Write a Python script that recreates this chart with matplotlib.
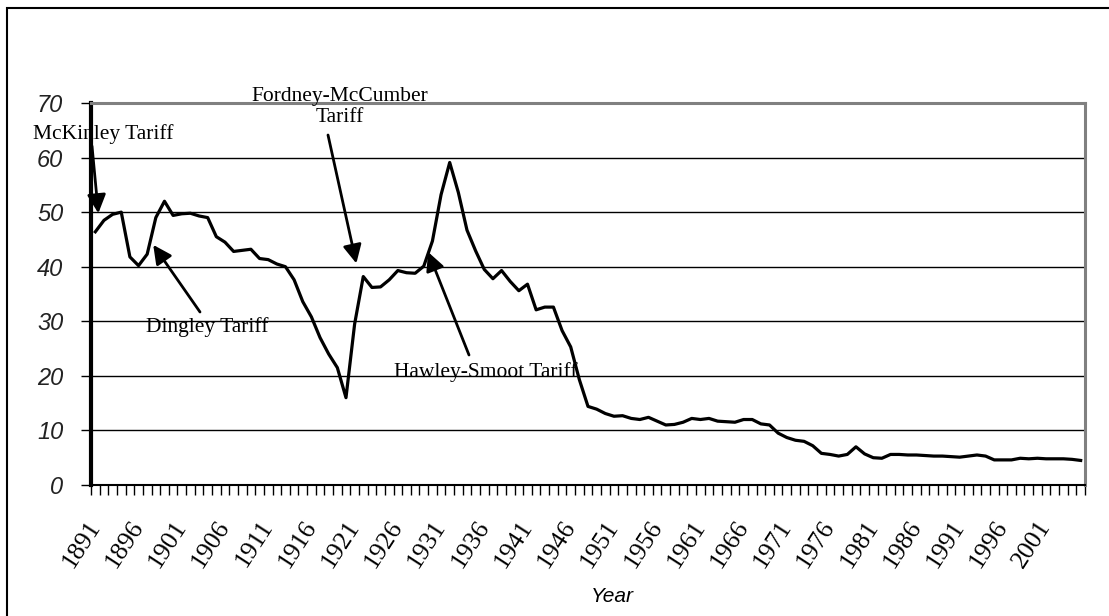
import numpy as np
import matplotlib
matplotlib.use('Agg')
import matplotlib.pyplot as plt
from matplotlib.patches import Rectangle

plt.rcParams['font.family'] = ['Liberation Serif', 'DejaVu Serif']

# average US tariff rate (%), one value per year 1891-2005
years = list(range(1891, 2006))
tariff = [
    46.4, 48.5, 49.6, 50.0, 41.8, 40.2, 42.3, 49.0, 52.0, 49.4,   # 1891-1900
    49.7, 49.8, 49.3, 49.0, 45.5, 44.5, 42.8, 43.0, 43.2, 41.5,   # 1901-1910
    41.3, 40.5, 40.0, 37.6, 33.6, 30.8, 27.0, 24.0, 21.5, 16.0,   # 1911-1920
    29.5, 38.2, 36.2, 36.3, 37.6, 39.3, 38.9, 38.8, 40.1, 44.7,   # 1921-1930
    53.2, 59.1, 53.6, 46.7, 42.9, 39.5, 37.8, 39.3, 37.3, 35.6,   # 1931-1940
    36.8, 32.1, 32.6, 32.6, 28.3, 25.3, 19.3, 14.4, 13.9, 13.1,   # 1941-1950
    12.6, 12.7, 12.2, 12.0, 12.4, 11.7, 11.0, 11.1, 11.5, 12.2,   # 1951-1960
    12.0, 12.2, 11.7, 11.6, 11.5, 12.0, 12.0, 11.2, 11.0, 9.5,    # 1961-1970
    8.7, 8.2, 8.0, 7.2, 5.8, 5.6, 5.3, 5.6, 7.0, 5.7,             # 1971-1980
    5.0, 4.9, 5.6, 5.6, 5.5, 5.5, 5.4, 5.3, 5.3, 5.2,             # 1981-1990
    5.1, 5.3, 5.5, 5.3, 4.6, 4.6, 4.6, 4.9, 4.8, 4.9,             # 1991-2000
    4.8, 4.8, 4.8, 4.7, 4.5,                                      # 2001-2005
]

label_years = years[::5]
y_ticks = [0, 10, 20, 30, 40, 50, 60, 70]

# annotations: (text, text centre in px from top-left, arrow start px, arrow tip year, tip value)
notes = [
    ('McKinley Tariff', (103, 134), (92, 146), 1891.35, 49.8),
    ('Dingley Tariff', (207, 327), (200, 312), 1897.7, 44.0),
    ('Fordney-McCumber\nTariff', (340, 107), (328, 135), 1921.2, 40.6),
    ('Hawley-Smoot Tariff', (486, 372), (469, 355), 1929.5, 42.7),
]

W, H = 1109, 616
fig = plt.figure(figsize=(W / 100, H / 100), dpi=100)
ax = fig.add_axes([91 / W, 1 - 485 / H, (1085 - 91) / W, (485 - 103) / H])

x = np.arange(len(years))
ax.plot(x, tariff, color='black', lw=2.3, zorder=3)

ax.set_xlim(-0.5, len(years) - 0.5)
ax.set_ylim(0, 70)

# grid
for v in y_ticks[1:-1]:
    ax.axhline(v, color='black', lw=1, zorder=1)

# spines
ax.spines['left'].set_linewidth(3)
ax.spines['bottom'].set_linewidth(1.5)
for s in ['top', 'right']:
    ax.spines[s].set_color('#808080')
    ax.spines[s].set_linewidth(2.2)

# y axis
ax.set_yticks(y_ticks)
ax.set_yticklabels([str(v) for v in y_ticks], fontsize=17, style='italic',
                   family='Liberation Sans', color='#222222')
ax.tick_params(axis='y', direction='out', length=7, width=1, pad=13)

# x axis: category ticks between years, labels every 5 years
ax.set_xticks(np.arange(len(years) + 1) - 0.5, minor=True)
ax.set_xticks([years.index(yr) for yr in label_years])
ax.set_xticklabels([str(yr) for yr in label_years], rotation=57, fontsize=18.5,
                   ha='right', va='center', rotation_mode='anchor')
ax.tick_params(axis='x', which='major', length=0, pad=27)
ax.tick_params(axis='x', which='minor', direction='out', length=7.5, width=1)

fig.text(612 / W, 1 - 597 / H, 'Year', fontsize=15, style='italic',
         family='Liberation Sans', ha='center', va='center')

for txt, (tx, ty), (sx, sy), tip_year, tip_val in notes:
    fig.text(tx / W, 1 - ty / H, txt, fontsize=15.5, ha='center', va='center',
             linespacing=1.15, zorder=5)
    ax.annotate('', xy=(years.index(int(tip_year)) + tip_year - int(tip_year), tip_val),
                xycoords='data', xytext=(sx, H - sy), textcoords='figure pixels',
                arrowprops=dict(arrowstyle='-|>', color='black', lw=2,
                                mutation_scale=28, shrinkA=0, shrinkB=0),
                zorder=6, annotation_clip=False)

# outer frame
fig.add_artist(Rectangle((7 / W, -0.1), 1.2, 1 - 8 / H + 0.1, fill=False,
                         lw=1.5, color='black', transform=fig.transFigure))

fig.savefig('out.png', dpi=100)
